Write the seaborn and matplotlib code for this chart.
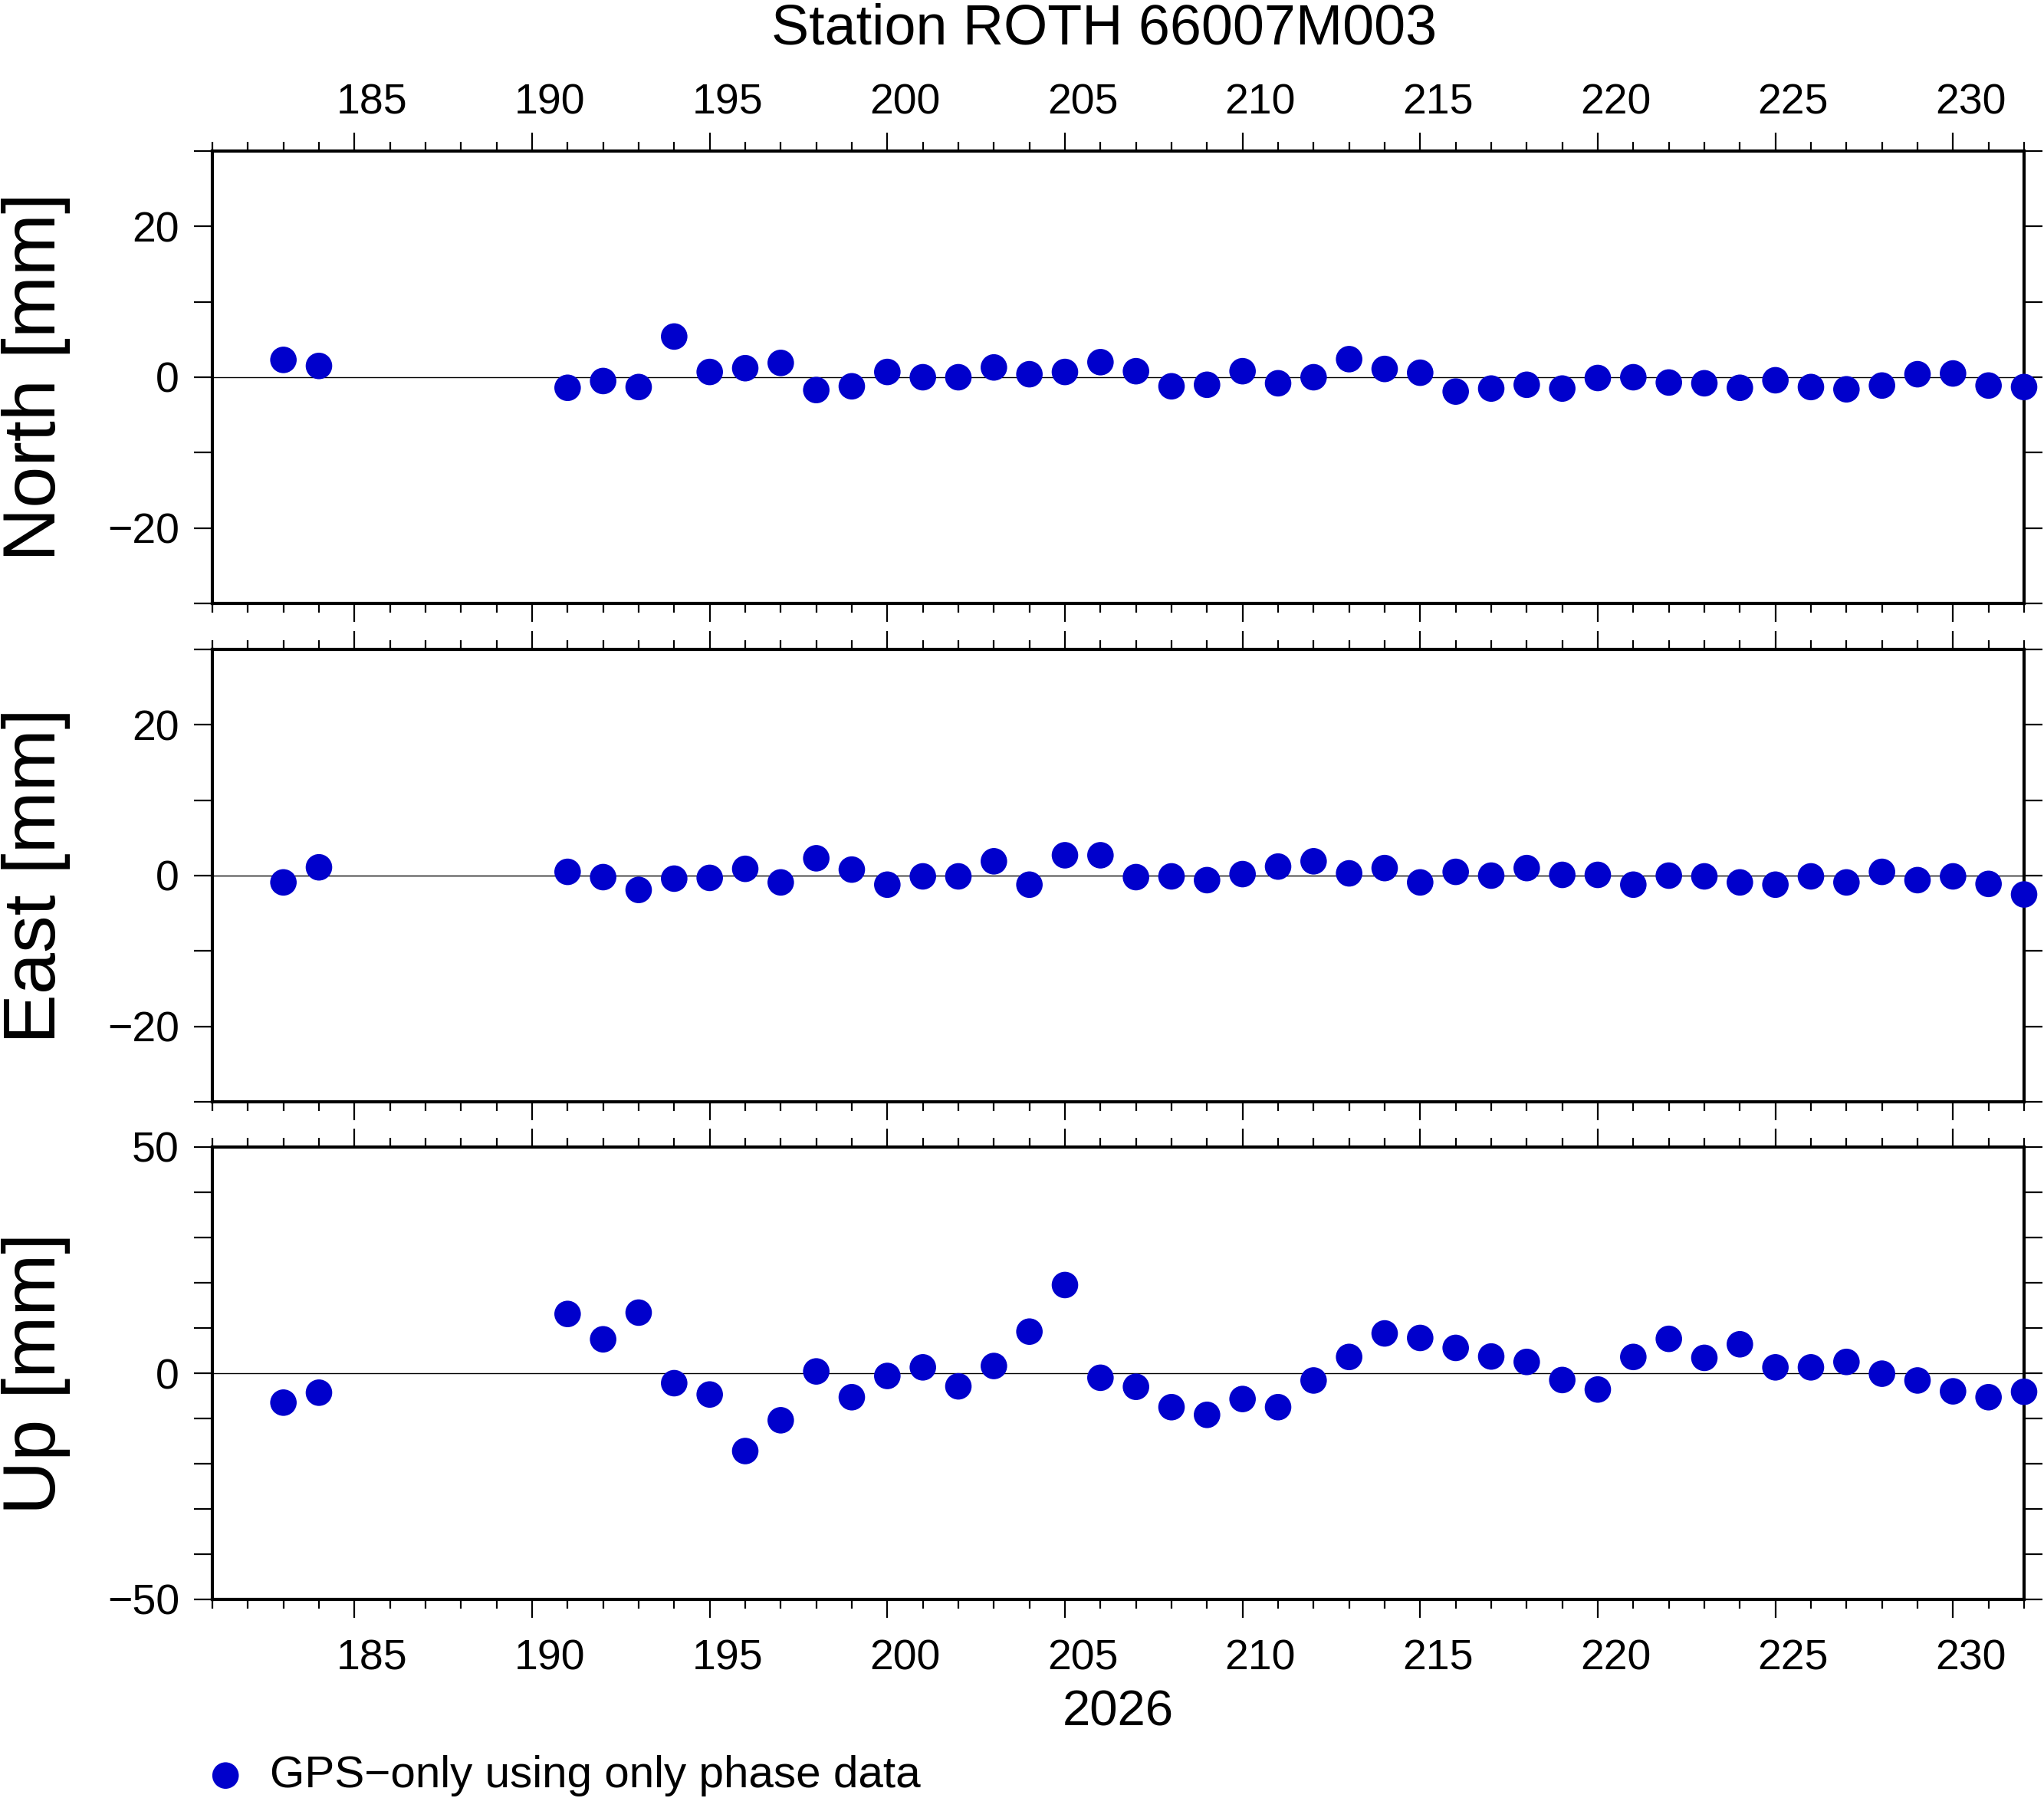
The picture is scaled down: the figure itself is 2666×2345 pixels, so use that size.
import numpy as np
import pandas as pd
import seaborn as sns
import matplotlib
matplotlib.use("Agg")
import matplotlib.pyplot as plt
from matplotlib.transforms import ScaledTranslation

# Day of year 2026 for each daily solution
days = [183, 184] + list(range(191, 233))

# Residuals in mm
north = [2.3, 1.5,
         -1.4, -0.5, -1.3, 5.4, 0.7, 1.2, 1.9, -1.7, -1.2, 0.7,
         0.0, 0.0, 1.3, 0.4, 0.7, 2.0, 0.8, -1.2, -1.0, 0.8,
         -0.8, 0.0, 2.4, 1.1, 0.6, -1.9, -1.5, -1.0, -1.5, -0.1,
         0.0, -0.7, -0.8, -1.4, -0.4, -1.3, -1.6, -1.1, 0.4, 0.5,
         -1.1, -1.3]
east = [-0.9, 1.1,
        0.5, -0.2, -1.9, -0.4, -0.3, 0.9, -0.9, 2.3, 0.8, -1.2,
        -0.1, -0.1, 1.9, -1.2, 2.7, 2.7, -0.2, -0.1, -0.6, 0.2,
        1.2, 1.9, 0.3, 1.0, -0.9, 0.5, 0.0, 1.0, 0.1, 0.1,
        -1.2, 0.0, -0.1, -0.9, -1.2, -0.1, -0.9, 0.5, -0.6, -0.1,
        -1.1, -2.5]
up = [-6.5, -4.3,
      13.1, 7.5, 13.4, -2.2, -4.7, -17.2, -10.4, 0.4, -5.3, -0.6,
      1.3, -2.9, 1.6, 9.2, 19.5, -1.0, -3.0, -7.5, -9.2, -5.7,
      -7.5, -1.6, 3.6, 8.8, 7.8, 5.6, 3.7, 2.5, -1.5, -3.6,
      3.6, 7.6, 3.4, 6.4, 1.3, 1.3, 2.5, -0.1, -1.6, -4.0,
      -5.3, -4.1]

components = ["North", "East", "Up"]
ylims = {"North": 30, "East": 30, "Up": 50}
ylabel_step = {"North": 20, "East": 20, "Up": 50}
series_label = "GPS\u2212only using only phase data"
year = "2026"
title = "Station ROTH 66007M003"

df = pd.DataFrame({"day": days, "North": north, "East": east, "Up": up})

sns.set_style("white")
plt.rcParams["font.family"] = ["Liberation Sans", "DejaVu Sans"]
plt.rcParams["text.color"] = "black"
plt.rcParams["axes.labelcolor"] = "black"
plt.rcParams["xtick.color"] = "black"
plt.rcParams["ytick.color"] = "black"

W, H = 2666, 2345
fig = plt.figure(figsize=(W / 100, H / 100), dpi=100)

left, right = 277, 2640
tops = [197, 847, 1496]
ph = 590
dot_color = "#0000cc"

axes = []
for i, comp in enumerate(components):
    ax = fig.add_axes([left / W, 1 - (tops[i] + ph) / H, (right - left) / W, ph / H])
    axes.append(ax)
    ax.axhline(0, color="black", lw=1.0, zorder=1)
    sns.scatterplot(data=df, x="day", y=comp, ax=ax, color=dot_color, s=620,
                    edgecolor="none", legend=False, clip_on=False, zorder=3,
                    label=series_label)
    ax.set_xlim(181, 232)
    lim = ylims[comp]
    ax.set_ylim(-lim, lim)
    yt = np.arange(-lim, lim + 1, 10)
    ax.set_yticks(yt)
    ax.set_yticklabels([f"{v:d}".replace("-", "\u2212") if v % ylabel_step[comp] == 0 else ""
                        for v in yt])
    ax.set_xticks(np.arange(185, 232, 5))
    ax.set_xticks(np.arange(181, 233, 1), minor=True)
    ax.set_xlabel("")
    ax.set_ylabel("")
    for sp in ax.spines.values():
        sp.set_linewidth(3)
        sp.set_color("black")
    ax.tick_params(axis="both", which="both", direction="out", top=True, right=True,
                   bottom=True, left=True, width=1.6, color="black")
    ax.tick_params(axis="x", which="major", length=17)
    ax.tick_params(axis="x", which="minor", length=8.5)
    ax.tick_params(axis="y", which="major", length=17, labelsize=40, pad=14)
    ax.tick_params(axis="x", labelsize=40, labelbottom=(i == 2), labeltop=(i == 0))
    fig.text(47 / W, 1 - (tops[i] + ph / 2) / H, f"{comp} [mm]", rotation=90,
             ha="center", va="center", fontsize=70)

axes[0].tick_params(axis="x", which="major", pad=9)
axes[2].tick_params(axis="x", which="major", pad=20)
axes[2].set_xlabel(year, fontsize=47, labelpad=10)

# day labels sit in the middle of the day interval
half_day = (right - left) / 100 / (232 - 181) / 2
for ax in (axes[0], axes[2]):
    offset = ScaledTranslation(half_day, 0, fig.dpi_scale_trans)
    for lab in ax.get_xticklabels():
        lab.set_transform(lab.get_transform() + offset)

fig.text(1440 / W, 1 - 57 / H, title, ha="center", va="baseline", fontsize=53)

handles, labels = axes[2].get_legend_handles_labels()
fig.legend(handles[:1], labels[:1], loc="center left",
           bbox_to_anchor=(265 / W, 1 - 2316 / H), frameon=False, fontsize=42,
           borderpad=0, borderaxespad=0, handlelength=1.0, handletextpad=0.5)

fig.savefig("out.png", dpi=100)
